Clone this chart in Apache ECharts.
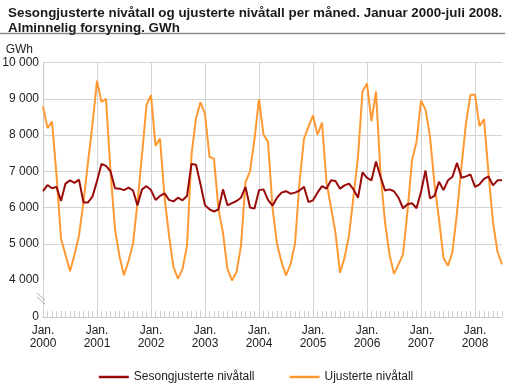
<!DOCTYPE html>
<html><head><meta charset="utf-8">
<script src="https://cdn.jsdelivr.net/npm/echarts@6/dist/echarts.min.js"></script>
<style>html,body{margin:0;padding:0;background:#fff}#c{width:512px;height:387px}</style>
</head><body><div id="c"></div><script>
const years = ['2000','2001','2002','2003','2004','2005','2006','2007','2008'];
const months = ['Jan.','Feb.','Mar.','Apr.','Mai','Jun.','Jul.','Aug.','Sep.','Okt.','Nov.','Des.'];
const seriesNames = ['Sesongjusterte nivåtall', 'Ujusterte nivåtall'];
const sesong = [
6450,6620,6530,6570,6180,6660,6750,6680,6770,6140,6140,6300,
6730,7200,7150,7000,6530,6520,6480,6550,6470,6060,6500,6590,
6480,6210,6320,6390,6210,6170,6270,6200,6320,7200,7180,6640,
6060,5950,5890,5950,6500,6060,6120,6180,6270,6570,6000,5970,
6480,6500,6210,6050,6270,6410,6450,6380,6410,6470,6570,6150,
6200,6410,6590,6520,6750,6730,6520,6610,6660,6500,6270,6970,
6820,6750,7270,6850,6470,6500,6450,6270,5980,6090,6120,5980,
6430,7020,6250,6320,6710,6480,6750,6850,7230,6820,6860,6910,
6570,6640,6790,6860,6610,6750,6750];
const ujust = [
8790,8190,8370,6900,5140,4700,4240,4700,5230,6150,7250,8300,
9500,8910,9000,7000,5400,4650,4130,4520,5000,6140,7450,8830,
9100,7700,7900,6300,5230,4350,4040,4300,4950,7450,8470,8900,
8580,7400,7340,5950,5300,4300,3950,4220,4950,6700,7000,7880,
8990,8010,7810,6000,5000,4500,4130,4430,5000,6690,7900,8230,
8540,8010,8340,6700,6000,5300,4200,4610,5230,6300,7400,9200,
9420,8380,9200,6950,5600,4700,4170,4430,4700,5900,7300,7810,
8950,8700,7960,6650,5680,4610,4390,4780,5860,7150,8330,9110,
9110,8240,8440,6950,5590,4780,4430];
const categories = [];
for (const y of years) for (const m of months) categories.push(m + '\n' + y);
categories.length = sesong.length;

const fmt = v => String(v).replace(/\B(?=(\d{3})+(?!\d))/g, ' ');
const FONT = '"Liberation Sans", Arial, sans-serif';
const chart = echarts.init(document.getElementById('c'), null, {renderer: 'canvas'});
chart.setOption({
  animation: false,
  backgroundColor: '#fff',
  title: {
    text: 'Sesongjusterte nivåtall og ujusterte nivåtall per måned. Januar 2000-juli 2008.\nAlminnelig forsyning. GWh',
    left: 3, top: 1,
    textStyle: {fontSize: 13.4, fontWeight: 'bold', fontFamily: FONT, color: '#1a1a1a', lineHeight: 15}
  },
  graphic: [
    {type: 'line', shape: {x1: 0, y1: 33.5, x2: 505, y2: 33.5}, style: {stroke: '#8c8c8c', lineWidth: 1.5}},
    {type: 'line', z: 100, shape: {x1: 37, y1: 293, x2: 45, y2: 300}, style: {stroke: '#b0b0b0', lineWidth: 1}},
    {type: 'line', z: 100, shape: {x1: 37, y1: 297, x2: 45, y2: 304}, style: {stroke: '#b0b0b0', lineWidth: 1}}
  ],
  legend: {
    data: seriesNames.map(n => ({name: n, icon: 'rect'})),
    left: 'center', top: 366,
    itemWidth: 30, itemHeight: 2.5, itemGap: 35,
    textStyle: {fontSize: 12, fontFamily: FONT, color: '#222'}
  },
  grid: {left: 43, right: 10, top: 62.5, bottom: 70, containLabel: false, outerBoundsMode: 'none'},
  xAxis: {
    type: 'category',
    data: categories,
    boundaryGap: false,
    axisLine: {show: true, lineStyle: {color: '#c8c8c8', width: 1}},
    axisTick: {show: true, inside: true, interval: 0, length: 6, lineStyle: {color: '#cfcfcf'}},
    axisLabel: {
      interval: (i) => i % 12 === 0,
      formatter: (v) => v,
      fontSize: 12, fontFamily: FONT, color: '#222', lineHeight: 13, margin: 7
    },
    splitLine: {show: true, interval: (i) => i % 12 === 0, lineStyle: {color: '#d4d4d4', width: 1}}
  },
  yAxis: {
    type: 'value',
    min: 0, max: 10000, interval: 1000,
    name: 'GWh',
    nameLocation: 'end',
    nameGap: 7,
    nameTextStyle: {fontSize: 12, fontFamily: FONT, color: '#222', align: 'right', padding: [0, 10, 0, 0]},
    breaks: [{start: 0, end: 4000, gap: 1020}],
    breakArea: {show: false},
    axisLine: {show: true, lineStyle: {color: '#c8c8c8'}},
    axisTick: {show: false},
    axisLabel: {formatter: fmt, fontSize: 12, fontFamily: FONT, color: '#222', margin: 4},
    splitLine: {show: true, lineStyle: {color: '#d4d4d4', width: 1}}
  },
  series: [
    {name: seriesNames[0], type: 'line', data: sesong, symbol: 'none', z: 3,
     itemStyle: {color: '#990a0a'}, lineStyle: {color: '#990a0a', width: 2}},
    {name: seriesNames[1], type: 'line', data: ujust, symbol: 'none', z: 2,
     itemStyle: {color: '#ff9a33'}, lineStyle: {color: '#ff9a33', width: 2}}
  ]
});
</script></body></html>
